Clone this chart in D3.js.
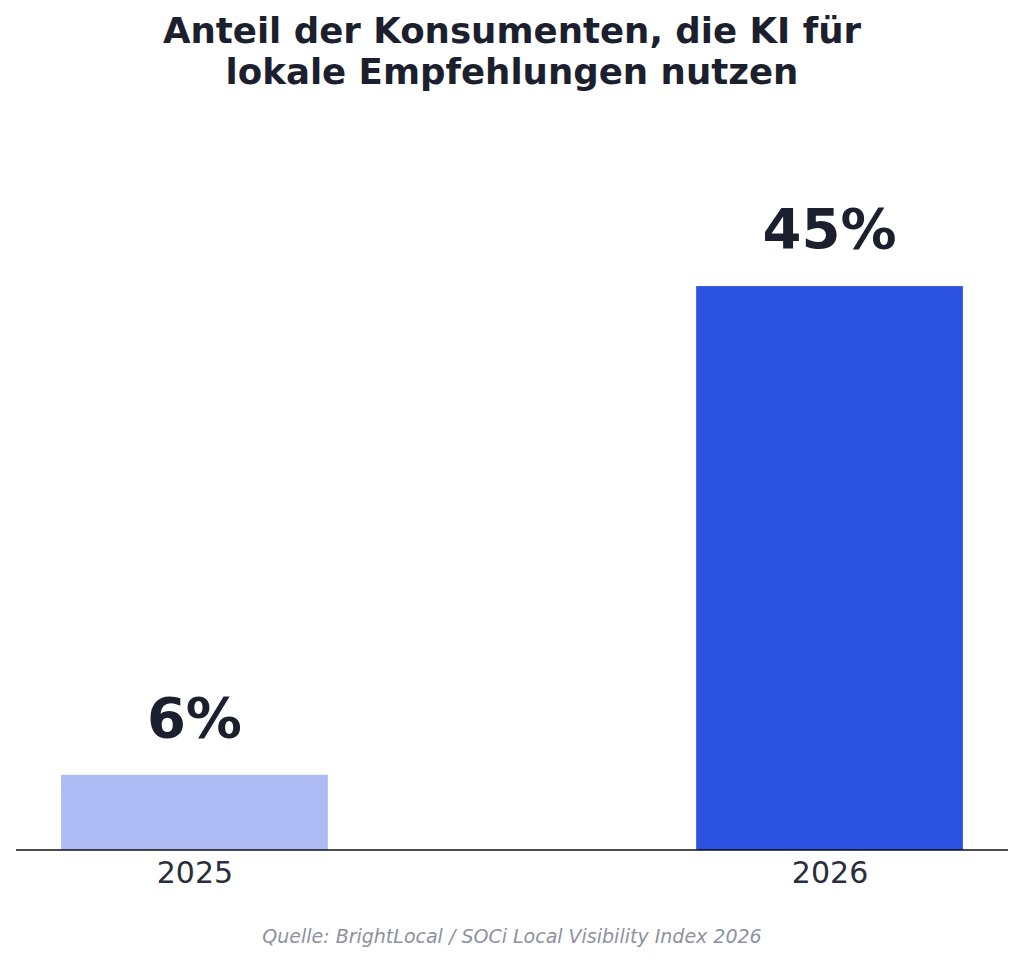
<!DOCTYPE html>
<html><head><meta charset="utf-8">
<script src="https://cdn.jsdelivr.net/npm/d3@7"></script>
<style>html,body{margin:0;padding:0;background:#fff;}svg{display:block;}</style>
</head><body>
<script>
const categories = ["2025", "2026"];
const values = [6, 45];
const valueLabels = ["6%", "45%"];
const barColors = ["#aebaf4", "#2b52e0"];
const titleLines = ["Anteil der Konsumenten, die KI für", "lokale Empfehlungen nutzen"];
const sourceText = "Quelle: BrightLocal / SOCi Local Visibility Index 2026";

const W = 1024, H = 962;
const font = "'DejaVu Sans', sans-serif";
const svg = d3.select("body").append("svg").attr("width", W).attr("height", H);

const barW = 0.42;
const x = d3.scaleLinear().domain([-0.281, 1.281]).range([16, 1008]);
const y = d3.scaleLinear().domain([0, 51.75]).range([850, 201.5]);

// title
svg.append("g").selectAll("text").data(titleLines).join("text")
  .attr("x", 512).attr("y", (d, i) => 43 + i * 41)
  .attr("text-anchor", "middle")
  .attr("font-family", font).attr("font-weight", "bold").attr("font-size", 35.6)
  .attr("fill", "#1c1f2e").text(d => d);

// bars
svg.append("g").selectAll("rect").data(values).join("rect")
  .attr("x", (d, i) => x(i - barW / 2))
  .attr("width", (d, i) => x(i + barW / 2) - x(i - barW / 2))
  .attr("y", d => y(d))
  .attr("height", d => y(0) - y(d))
  .attr("fill", (d, i) => barColors[i]);

// value labels
svg.append("g").selectAll("text").data(values).join("text")
  .attr("x", (d, i) => x(i))
  .attr("y", d => y(d) - 38)
  .attr("text-anchor", "middle")
  .attr("font-family", font).attr("font-weight", "bold").attr("font-size", 56)
  .attr("fill", "#1c1f2e").text((d, i) => valueLabels[i]);

// axis
const axis = d3.axisBottom(x).tickValues([0, 1]).tickFormat(i => categories[i]).tickSize(0).tickPadding(0);
const gx = svg.append("g").attr("transform", `translate(0,${y(0)})`).call(axis);
gx.select(".domain").attr("stroke", "#111").attr("stroke-width", 1.5).attr("d", `M${x.range()[0]},0H${x.range()[1]}`);
gx.selectAll(".tick text").attr("font-family", font).attr("font-size", 30).attr("fill", "#2a2d3a")
  .attr("dy", null).attr("y", 33);

// source
svg.append("text").attr("x", 512).attr("y", 943).attr("text-anchor", "middle")
  .attr("font-family", font).attr("font-style", "italic").attr("font-size", 19)
  .attr("fill", "#8d91a0").text(sourceText);
</script>
</body></html>
